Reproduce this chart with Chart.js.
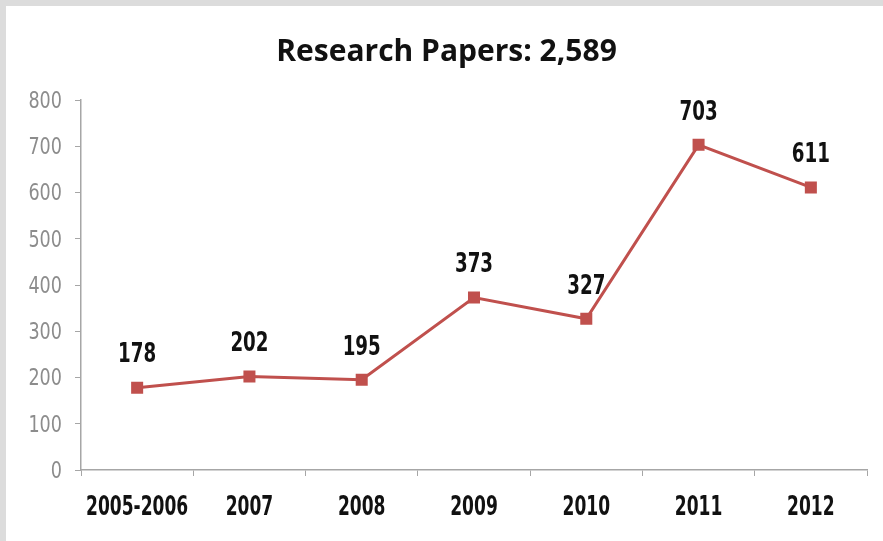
<!DOCTYPE html>
<html>
<head>
<meta charset="utf-8">
<script src="https://cdn.jsdelivr.net/npm/chart.js@4"></script>
<style>
  body { margin: 0; background: #dcdcdc; width: 883px; height: 541px; overflow: hidden; }
  #box { position: absolute; left: 6px; top: 6px; width: 877px; height: 535px; background: #fff; }
</style>
</head>
<body>
<div id="box"><canvas id="papers" width="877" height="535"></canvas></div>
<script>
const years = ["2005-2006", "2007", "2008", "2009", "2010", "2011", "2012"];
const papers = [178, 202, 195, 373, 327, 703, 611];
const yTicks = [0, 100, 200, 300, 400, 500, 600, 700, 800];

const cond = "'DejaVu Sans Condensed', 'DejaVu Sans', sans-serif";
const red = "#c0504d";
const axisGray = "#a6a6a6";

// the original uses a narrow font, so text is squeezed sideways
function squeezed(ctx, text, x, y, sx, align) {
    ctx.save();
    ctx.translate(x, y);
    ctx.scale(sx, 1);
    ctx.textAlign = align;
    ctx.textBaseline = "middle";
    ctx.fillText(text, 0, 0);
    ctx.restore();
}

const narrowText = {
    id: "narrowText",
    afterDraw(chart) {
        const ctx = chart.ctx;
        const xs = chart.scales.x;
        const ys = chart.scales.y;

        // y tick labels
        ctx.font = "23px " + cond;
        ctx.fillStyle = "#8c8c8c";
        yTicks.forEach(v => {
            squeezed(ctx, String(v), ys.right - 19, ys.getPixelForValue(v) + 2, 0.85, "right");
        });

        // category labels
        ctx.font = "bold 26px " + cond;
        ctx.fillStyle = "#111";
        years.forEach((name, i) => {
            squeezed(ctx, name, xs.getPixelForValue(i), xs.top + 38, 0.73, "center");
        });

        // numbers above the points
        const meta = chart.getDatasetMeta(0);
        meta.data.forEach((pt, i) => {
            squeezed(ctx, String(papers[i]), pt.x, pt.y - 32, 0.78, "center");
        });
    }
};

new Chart(document.getElementById("papers"), {
    type: "line",
    data: {
        labels: years,
        datasets: [{
            data: papers,
            borderColor: red,
            backgroundColor: red,
            borderWidth: 3,
            pointStyle: "rect",
            pointRadius: 8.5,
            pointHoverRadius: 8.5,
            pointBorderWidth: 0,
            tension: 0
        }]
    },
    options: {
        responsive: false,
        animation: false,
        layout: { padding: { left: 20, right: 16, top: 0, bottom: 0 } },
        plugins: {
            legend: { display: false },
            tooltip: { enabled: false },
            title: {
                display: true,
                text: "Research Papers: 2,589",
                color: "#111",
                font: { family: "'Open Sans', sans-serif", size: 30, weight: "bold" },
                padding: { top: 28, bottom: 30 }
            }
        },
        scales: {
            x: {
                offset: true,
                afterFit: s => { s.height = 71; },
                grid: { display: true, drawOnChartArea: false, offset: true, color: axisGray, tickLength: 6 },
                border: { display: true, color: axisGray, width: 1.5 },
                ticks: { display: false, autoSkip: false }
            },
            y: {
                min: 0,
                max: 800,
                afterFit: s => { s.width = 55; },
                afterBuildTicks: s => { s.ticks = yTicks.map(v => ({ value: v })); },
                grid: { display: true, drawOnChartArea: false, color: axisGray, tickLength: 6 },
                border: { display: true, color: axisGray, width: 1.5 },
                ticks: { display: false }
            }
        }
    },
    plugins: [narrowText]
});
</script>
</body>
</html>
